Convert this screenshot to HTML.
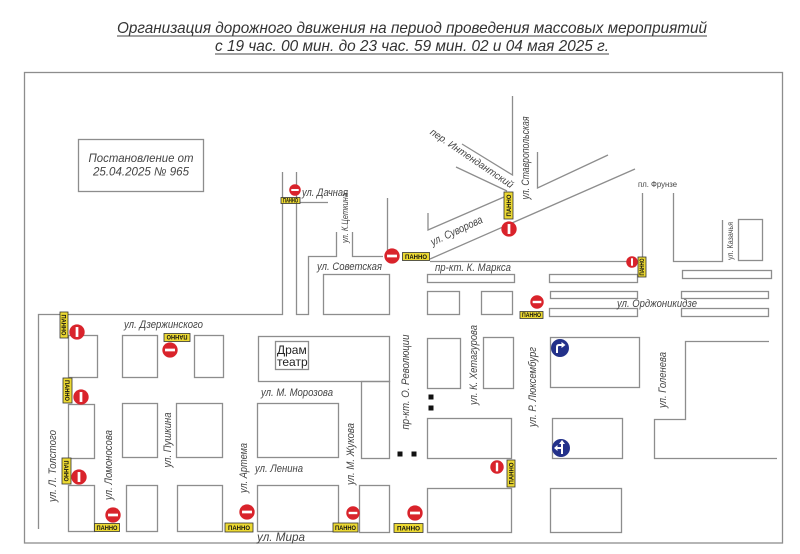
<!DOCTYPE html>
<html>
<head>
<meta charset="utf-8">
<style>
  html,body{margin:0;padding:0;background:#fff;}
  svg{display:block;}
  .ln{fill:none;stroke:#8d8d8d;stroke-width:1.3;}
  .t{font-family:"Liberation Sans","DejaVu Sans",sans-serif;font-style:italic;fill:#444;}
  .p{font-family:"Liberation Sans","DejaVu Sans",sans-serif;font-weight:bold;fill:#111;font-size:6.5px;}
  .pl{fill:#ecd932;stroke:#333;stroke-width:0.8;}
</style>
</head>
<body>
<svg width="800" height="554" viewBox="0 0 800 554" xmlns="http://www.w3.org/2000/svg">
  <defs>
    <symbol id="nh" viewBox="-10 -10 20 20">
      <circle cx="0" cy="0" r="9.6" fill="#d9232b"/>
      <rect x="-6.2" y="-1.7" width="12.4" height="3.4" fill="#fff"/>
    </symbol>
    <symbol id="nv" viewBox="-10 -10 20 20">
      <circle cx="0" cy="0" r="9.6" fill="#d9232b"/>
      <rect x="-1.7" y="-6.2" width="3.4" height="12.4" fill="#fff"/>
    </symbol>
  </defs>

  <!-- Title -->
  <text class="t" x="117" y="33" font-size="16" textLength="590" lengthAdjust="spacingAndGlyphs" style="fill:#333">Организация дорожного движения на период проведения массовых мероприятий</text>
  <line x1="117" y1="36" x2="707" y2="36" stroke="#444" stroke-width="1"/>
  <text class="t" x="215" y="51" font-size="16" textLength="394" lengthAdjust="spacingAndGlyphs" style="fill:#333">с 19 час. 00 мин. до 23 час. 59 мин. 02 и 04 мая 2025 г.</text>
  <line x1="215" y1="54" x2="609" y2="54" stroke="#444" stroke-width="1"/>

  <!-- Frame -->
  <rect class="ln" x="24.5" y="72.5" width="758" height="470.5"/>

  <!-- Postanovlenie box -->
  <rect class="ln" x="78.5" y="139.5" width="125" height="52"/>
  <text class="t" x="141" y="162" font-size="12" text-anchor="middle" textLength="105" lengthAdjust="spacingAndGlyphs">Постановление от</text>
  <text class="t" x="141" y="175.5" font-size="12" text-anchor="middle" textLength="96" lengthAdjust="spacingAndGlyphs">25.04.2025 № 965</text>

  <!-- Road lines -->
  <polyline class="ln" points="38.5,529 38.5,314.5 282.5,314.5 282.5,172"/>
  <polyline class="ln" points="296.5,172 296.5,314.5 308.5,314.5 308.5,256.5 336.5,256.5 336.5,232"/>
  <polyline class="ln" points="296.5,202.5 328,202.5"/>
  <polyline class="ln" points="352.5,232 352.5,256.5 383,256.5"/>
  <polyline class="ln" points="387.5,198 387.5,252"/>
  <polyline class="ln" points="428,213 428,230 504,197"/>
  <polyline class="ln" points="456,167 507,191"/>
  <polyline class="ln" points="462,144 512.5,175 512.5,96"/>
  <polyline class="ln" points="537.5,152 537.5,188 608,155"/>
  <polyline class="ln" points="430,259 635,169"/>
  <polyline class="ln" points="430,261.5 642.5,261.5 642.5,193"/>
  <polyline class="ln" points="673.5,193 673.5,261.5 722.5,261.5 722.5,220"/>
  <rect class="ln" x="738.5" y="219.5" width="24" height="41"/>
  <polyline class="ln" points="769,341.5 685.5,341.5 685.5,419.5 654.5,419.5 654.5,458.5 777,458.5"/>

  <!-- Strips -->
  <rect class="ln" x="427.5" y="274.5" width="87" height="8"/>
  <rect class="ln" x="549.5" y="274.5" width="88" height="8"/>
  <rect class="ln" x="682.5" y="270.5" width="89" height="8"/>
  <rect class="ln" x="550.5" y="291.5" width="87" height="7"/>
  <rect class="ln" x="681.5" y="291.5" width="87" height="7"/>
  <rect class="ln" x="549.5" y="308.5" width="88" height="8"/>
  <rect class="ln" x="681.5" y="308.5" width="87" height="8"/>

  <!-- Blocks -->
  <rect class="ln" x="323.5" y="274.5" width="66" height="40"/>
  <rect class="ln" x="427.5" y="291.5" width="32" height="23"/>
  <rect class="ln" x="481.5" y="291.5" width="31" height="23"/>

  <rect class="ln" x="258.5" y="336.5" width="131" height="45"/>
  <rect class="ln" x="361.5" y="381.5" width="28" height="77"/>
  <rect class="ln" x="275.5" y="341.5" width="33" height="28"/>
  <text x="277" y="354" font-family="Liberation Sans, DejaVu Sans, sans-serif" font-size="12" fill="#222">Драм</text>
  <text x="277" y="366" font-family="Liberation Sans, DejaVu Sans, sans-serif" font-size="12" fill="#222">театр</text>

  <rect class="ln" x="427.5" y="338.5" width="33" height="50"/>
  <rect class="ln" x="483.5" y="337.5" width="30" height="51"/>
  <rect class="ln" x="427.5" y="418.5" width="84" height="40"/>
  <rect class="ln" x="427.5" y="488.5" width="84" height="44"/>

  <rect class="ln" x="257.5" y="403.5" width="81" height="54"/>
  <rect class="ln" x="257.5" y="485.5" width="81" height="46"/>
  <rect class="ln" x="359.5" y="485.5" width="30" height="47"/>

  <rect class="ln" x="68.5" y="335.5" width="29" height="42"/>
  <rect class="ln" x="122.5" y="335.5" width="35" height="42"/>
  <rect class="ln" x="194.5" y="335.5" width="29" height="42"/>
  <rect class="ln" x="68.5" y="404.5" width="26" height="54"/>
  <rect class="ln" x="122.5" y="403.5" width="35" height="54"/>
  <rect class="ln" x="176.5" y="403.5" width="46" height="54"/>
  <rect class="ln" x="68.5" y="485.5" width="26" height="46"/>
  <rect class="ln" x="126.5" y="485.5" width="31" height="46"/>
  <rect class="ln" x="177.5" y="485.5" width="45" height="46"/>

  <rect class="ln" x="550.5" y="337.5" width="89" height="50"/>
  <rect class="ln" x="552.5" y="418.5" width="70" height="40"/>
  <rect class="ln" x="550.5" y="488.5" width="71" height="44"/>

  <!-- Black squares -->
  <rect x="428.5" y="394.5" width="5" height="5" fill="#111"/>
  <rect x="428.5" y="405.5" width="5" height="5" fill="#111"/>
  <rect x="397.5" y="451.5" width="5" height="5" fill="#111"/>
  <rect x="411.5" y="451.5" width="5" height="5" fill="#111"/>

  <!-- Street labels (horizontal) -->
  <text class="t" x="302" y="196" font-size="11" textLength="46" lengthAdjust="spacingAndGlyphs">ул. Дачная</text>
  <text class="t" x="317" y="270" font-size="11" textLength="65" lengthAdjust="spacingAndGlyphs">ул. Советская</text>
  <text class="t" x="435" y="271" font-size="11" textLength="76" lengthAdjust="spacingAndGlyphs">пр-кт. К. Маркса</text>
  <text class="t" x="617" y="307" font-size="11" textLength="80" lengthAdjust="spacingAndGlyphs">ул. Орджоникидзе</text>
  <text class="t" x="124" y="328" font-size="11" textLength="79" lengthAdjust="spacingAndGlyphs">ул. Дзержинского</text>
  <text class="t" x="261" y="396" font-size="11" textLength="72" lengthAdjust="spacingAndGlyphs">ул. М. Морозова</text>
  <text class="t" x="255" y="472" font-size="11" textLength="48" lengthAdjust="spacingAndGlyphs">ул. Ленина</text>
  <text class="t" x="257" y="541" font-size="12" textLength="48" lengthAdjust="spacingAndGlyphs">ул. Мира</text>
  <text x="638" y="187" font-family="Liberation Sans, DejaVu Sans, sans-serif" font-size="8" fill="#444" textLength="39" lengthAdjust="spacingAndGlyphs">пл. Фрунзе</text>

  <!-- Rotated labels -->
  <text class="t" font-size="11" text-anchor="middle" textLength="56" lengthAdjust="spacingAndGlyphs" transform="translate(458,234) rotate(-25)">ул. Суворова</text>
  <text class="t" font-size="10" text-anchor="middle" textLength="98" lengthAdjust="spacingAndGlyphs" transform="translate(470,161) rotate(34)">пер. Интендантский</text>
  <text class="t" font-size="11" text-anchor="middle" textLength="83" lengthAdjust="spacingAndGlyphs" transform="translate(529,158) rotate(-90)">ул. Ставропольская</text>
  <text class="t" font-size="9" text-anchor="middle" textLength="50" lengthAdjust="spacingAndGlyphs" transform="translate(348,218) rotate(-90)">ул. К.Цеткина</text>
  <text x="0" y="0" font-family="Liberation Sans, DejaVu Sans, sans-serif" font-size="8" fill="#444" text-anchor="middle" textLength="38" lengthAdjust="spacingAndGlyphs" transform="translate(733,241) rotate(-90)">ул. Казачья</text>
  <text class="t" font-size="11" text-anchor="middle" textLength="72" lengthAdjust="spacingAndGlyphs" transform="translate(56,466) rotate(-90)">ул. Л. Толстого</text>
  <text class="t" font-size="11" text-anchor="middle" textLength="70" lengthAdjust="spacingAndGlyphs" transform="translate(112,465) rotate(-90)">ул. Ломоносова</text>
  <text class="t" font-size="11" text-anchor="middle" textLength="55" lengthAdjust="spacingAndGlyphs" transform="translate(171,440) rotate(-90)">ул. Пушкина</text>
  <text class="t" font-size="11" text-anchor="middle" textLength="50" lengthAdjust="spacingAndGlyphs" transform="translate(247,468) rotate(-90)">ул. Артема</text>
  <text class="t" font-size="11" text-anchor="middle" textLength="62" lengthAdjust="spacingAndGlyphs" transform="translate(354,454) rotate(-90)">ул. М. Жукова</text>
  <text class="t" font-size="11" text-anchor="middle" textLength="95" lengthAdjust="spacingAndGlyphs" transform="translate(409,382) rotate(-90)">пр-кт. О. Революции</text>
  <text class="t" font-size="11" text-anchor="middle" textLength="80" lengthAdjust="spacingAndGlyphs" transform="translate(477,365) rotate(-90)">ул. К. Хетагурова</text>
  <text class="t" font-size="11" text-anchor="middle" textLength="80" lengthAdjust="spacingAndGlyphs" transform="translate(536,387) rotate(-90)">ул. Р. Люксембург</text>
  <text class="t" font-size="11" text-anchor="middle" textLength="56" lengthAdjust="spacingAndGlyphs" transform="translate(666,380) rotate(-90)">ул. Голенева</text>

  <!-- ПАННО plates (horizontal) -->
  <g transform="translate(290.5,200.5)"><rect class="pl" x="-9.5" y="-3" width="19" height="6"/><text class="p" x="0" y="2" font-size="4.5" text-anchor="middle" textLength="15" lengthAdjust="spacingAndGlyphs">ПАННО</text></g>
  <g transform="translate(416,256.5)"><rect class="pl" x="-13.5" y="-4" width="27" height="8"/><text class="p" x="0" y="2.4" text-anchor="middle" textLength="22" lengthAdjust="spacingAndGlyphs">ПАННО</text></g>
  <g transform="translate(531.5,315)"><rect class="pl" x="-11.5" y="-3.5" width="23" height="7"/><text class="p" x="0" y="2.2" font-size="6" text-anchor="middle" textLength="19" lengthAdjust="spacingAndGlyphs">ПАННО</text></g>
  <g transform="translate(177,337.5) rotate(180)"><rect class="pl" x="-13" y="-4" width="26" height="8"/><text class="p" x="0" y="2.4" text-anchor="middle" textLength="21" lengthAdjust="spacingAndGlyphs">ПАННО</text></g>
  <g transform="translate(107,527.5)"><rect class="pl" x="-12.5" y="-4" width="25" height="8"/><text class="p" x="0" y="2.4" text-anchor="middle" textLength="21" lengthAdjust="spacingAndGlyphs">ПАННО</text></g>
  <g transform="translate(239,527.5)"><rect class="pl" x="-14" y="-4.5" width="28" height="9"/><text class="p" x="0" y="2.4" text-anchor="middle" textLength="22" lengthAdjust="spacingAndGlyphs">ПАННО</text></g>
  <g transform="translate(345.5,527.5)"><rect class="pl" x="-12.5" y="-4.5" width="25" height="9"/><text class="p" x="0" y="2.4" text-anchor="middle" textLength="21" lengthAdjust="spacingAndGlyphs">ПАННО</text></g>
  <g transform="translate(408.5,528)"><rect class="pl" x="-14.5" y="-4.5" width="29" height="9"/><text class="p" x="0" y="2.4" text-anchor="middle" textLength="23" lengthAdjust="spacingAndGlyphs">ПАННО</text></g>

  <!-- ПАННО plates (vertical) -->
  <g transform="translate(508.5,205.5) rotate(-90)"><rect class="pl" x="-13.5" y="-4.5" width="27" height="9"/><text class="p" x="0" y="2.4" text-anchor="middle" textLength="22" lengthAdjust="spacingAndGlyphs">ПАННО</text></g>
  <g transform="translate(642,267) rotate(-90)"><rect class="pl" x="-10" y="-4" width="20" height="8"/><text class="p" x="0" y="2.2" font-size="5.5" text-anchor="middle" textLength="17" lengthAdjust="spacingAndGlyphs">ПАННО</text></g>
  <g transform="translate(511,473.5) rotate(-90)"><rect class="pl" x="-13.5" y="-4" width="27" height="8"/><text class="p" x="0" y="2.4" text-anchor="middle" textLength="22" lengthAdjust="spacingAndGlyphs">ПАННО</text></g>
  <g transform="translate(64,325) rotate(90)"><rect class="pl" x="-13" y="-4" width="26" height="8"/><text class="p" x="0" y="2.4" text-anchor="middle" textLength="21" lengthAdjust="spacingAndGlyphs">ПАННО</text></g>
  <g transform="translate(67.5,390.5) rotate(90)"><rect class="pl" x="-12.5" y="-4.5" width="25" height="9"/><text class="p" x="0" y="2.4" text-anchor="middle" textLength="21" lengthAdjust="spacingAndGlyphs">ПАННО</text></g>
  <g transform="translate(66.5,471) rotate(90)"><rect class="pl" x="-13" y="-4.5" width="26" height="9"/><text class="p" x="0" y="2.4" text-anchor="middle" textLength="21" lengthAdjust="spacingAndGlyphs">ПАННО</text></g>

  <!-- No-entry signs -->
  <use href="#nh" x="289" y="184" width="12" height="12"/>
  <use href="#nh" x="384" y="248" width="16" height="16"/>
  <use href="#nv" x="501" y="221" width="16" height="16"/>
  <use href="#nv" x="626" y="256" width="12" height="12"/>
  <use href="#nh" x="530" y="295" width="14" height="14"/>
  <use href="#nv" x="69" y="324" width="16" height="16"/>
  <use href="#nh" x="162" y="342" width="16" height="16"/>
  <use href="#nv" x="73" y="389" width="16" height="16"/>
  <use href="#nv" x="71" y="469" width="16" height="16"/>
  <use href="#nh" x="105" y="507" width="16" height="16"/>
  <use href="#nh" x="239" y="504" width="16" height="16"/>
  <use href="#nh" x="346" y="506" width="14" height="14"/>
  <use href="#nh" x="407" y="505" width="16" height="16"/>
  <use href="#nv" x="490" y="460" width="14" height="14"/>

  <!-- Blue mandatory direction signs -->
  <g transform="translate(560,348)">
    <circle r="9" fill="#23318a"/>
    <path d="M-3,5 L-3,-1 Q-3,-3 -1,-3 L2,-3" fill="none" stroke="#fff" stroke-width="2"/>
    <path d="M1.5,-6 L5.5,-3 L1.5,0 Z" fill="#fff"/>
  </g>
  <g transform="translate(561,448)">
    <circle r="9" fill="#23318a"/>
    <path d="M1,6 L1,-6 M1,0 L-4,0" fill="none" stroke="#fff" stroke-width="2"/>
    <path d="M-7,0 L-3.5,-3 L-3.5,3 Z" fill="#fff"/>
    <path d="M1,-8 L-2,-4 L4,-4 Z" fill="#fff"/>
  </g>
</svg>
</body>
</html>
